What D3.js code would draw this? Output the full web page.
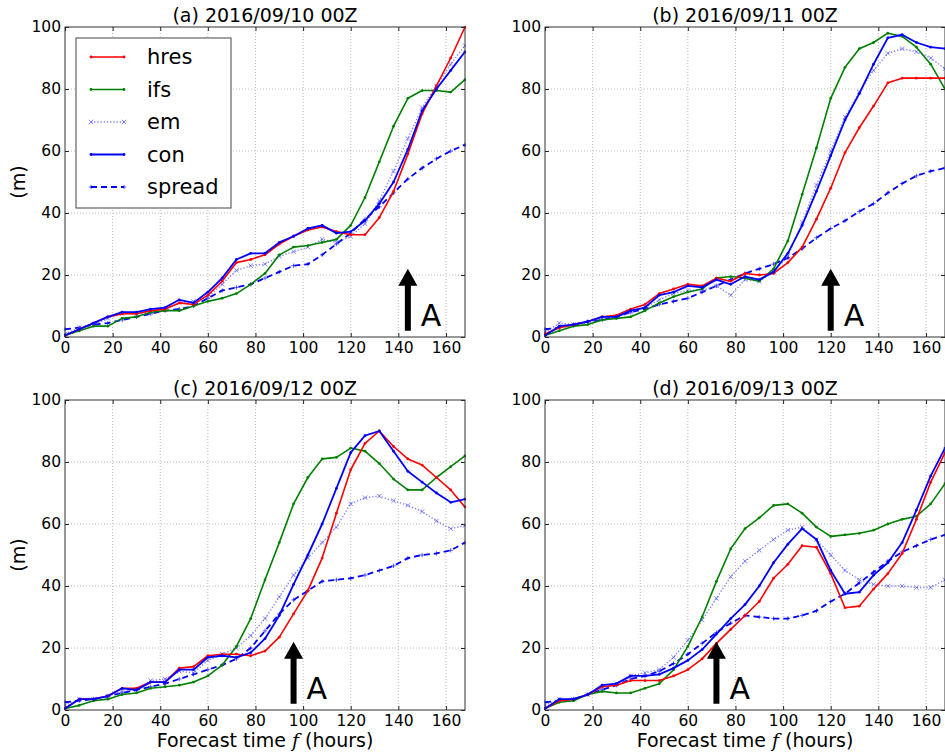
<!DOCTYPE html>
<html><head><meta charset="utf-8">
<script src="https://cdn.jsdelivr.net/npm/d3@7"></script>
<style>
body{margin:0;background:#fff}
svg{display:block}
text{font-family:"DejaVu Sans",sans-serif;fill:#000}
</style>
</head><body>
<svg id="chart" width="945" height="754"></svg>
<script>
// ---------- data ----------
const hours = [0,6,12,18,24,30,36,42,48,54,60,66,72,78,84,90,96,102,108,114,120,126,132,138,144,150,156,162,168];
const xTickValues = [0,20,40,60,80,100,120,140,160];
const yTickValues = [0,20,40,60,80,100];
const panelTitles = ["(a) 2016/09/10 00Z","(b) 2016/09/11 00Z","(c) 2016/09/12 00Z","(d) 2016/09/13 00Z"];
const arrowHours = [144,120,96,72];
const seriesNames = ["hres","ifs","em","con","spread"];

// panel (a)
const hresA   = [0.5,2.5,4.5,6.5,7.5,7.5,8.5,9,11,10.5,13.5,18,24,25,26.5,30,32.5,34.5,35.5,34,33,33,38.5,47,59,72,81,90,100];
const ifsA    = [0.5,2,3.5,3.5,6,6.5,8,8.5,8.5,10,11.5,12.5,14,17,20.5,26.5,29,29.5,30.5,31.5,36,45,56.5,68,77,79.5,79.5,79,83];
const emA     = [1,3,4,6,7.5,7.5,8,9,11,11.5,13,17,21.5,23,23.5,26,27.5,29,31.5,30.5,32.5,36.5,44,53.5,64,74,81,88,94];
const conA    = [0.5,2.5,4.5,6.5,8,8,9,9.5,12,11,14.5,19,25,27,27,30.5,32.5,35,36,33.5,34,37.5,43,50,60.5,73,80,86,92];
const spreadA = [2.5,3,4,4.5,5.5,6.5,7.5,8.5,9,10,12.5,15,16,17,19,21,23,23.5,26.5,30,33.5,38,42,46.5,51,54.5,57.5,60,62];

// panel (b)
const hresB   = [1,3,4,5,6.5,7,9,10.5,14,15.5,17,16.5,19,18,20.5,20,20.5,24,29,38,48,59.5,67.5,74.5,82,83.5,83.5,83.5,83.5];
const ifsB    = [0.5,2,3.5,4,5.5,6,6.5,8.5,11,13,14.5,15.5,19,19.5,19,18,22,31,46,61,77,87,93,95,98,97,93.5,88,80];
const emB     = [1.5,4.5,4,4.5,6,6.5,8,9.5,12,14,15,15,16.5,13.5,18.5,18,21,26,37,49,60,71,79,86,91.5,93,92,90,86.5];
const conB    = [0.5,3.5,4,5,6.5,6.5,8.5,9.5,13.5,14.5,16.5,16,18.5,17,19.5,18.5,21,27,36,47,58.5,70,78.5,88,96.5,97.5,95,93.5,93];
const spreadB = [2.5,3,4,5,5.5,6.5,8,9,10.5,11.5,12.5,14.5,16.5,18.5,20.5,22,23.5,25.5,28.5,32,35,37.5,40.5,43,46.5,49.5,52,53.5,54.5];

// panel (c)
const hresC   = [0.5,3.5,3.5,4.5,7,7,9,9,13.5,14,17.5,18,18,17.5,19,23.5,31,38.5,49,63.5,77.5,86,90,85,81,79,75,71,65.5];
const ifsC    = [0.5,1.5,3,3.5,5,5.5,7,7.5,8,9,11,14.5,20.5,29.5,42,54,66.5,75,81,81.5,84.5,83.5,79.5,74.5,71,71,75,78.5,82];
const emC     = [1.5,3.5,3.5,4.5,6,6.5,9.5,10,12.5,12,16,18,20,24,29.5,36.5,43.5,49,54,59,66.5,68.5,69,67.5,66,64,61,58.5,59.5];
const conC    = [0.5,3.5,3.5,4.5,7,6.5,9,9,13,13,17,17.5,17,18.5,23,30.5,40.5,50,60,71.5,83,88.5,90,83.5,77,73.5,70,67,68];
const spreadC = [2.5,3,3.5,4.5,5.5,6.5,7.5,8.5,10,11.5,13,14.5,16.5,20,25.5,31,35.5,38.5,41.5,42,42.5,43.5,45,46.5,49,50,50.5,51.5,54];

// panel (d)
const hresD   = [0.5,3,3.5,5,7.5,8,9.5,9.5,9.5,11,13,16.5,21.5,26,30.5,35,42.5,47,53,52.5,44,33,33.5,39,44,50.5,61.5,73.5,83];
const ifsD    = [0.5,2.5,3,5,6,5.5,5.5,7,8.5,13,20.5,30,41.5,52,58.5,62,66,66.5,63.5,59,56,56.5,57,58,60,61.5,62.5,66.5,73];
const emD     = [1.5,3.5,3.5,5,7,8.5,11,12,13,17,22.5,29,36,43,48,51.5,55,58,59,55,50,45,42,40.5,40,40,39.5,39.5,42];
const conD    = [0.5,3.5,3.5,5,8,8.5,11,11,11.5,13.5,16,19.5,24.5,29.5,34,40,47.5,53.5,58.5,55,45,37.5,38,43.5,47.5,54,64.5,75.5,84.5];
const spreadD = [2.5,3,3.5,5,6.5,8,10,11,12.5,15,18,21.5,25,28,30.5,30,29.5,29.5,30.5,32,35,37.5,41,44.5,48,51,53,55,56.5];

const panelSeries = [
  {hres:hresA, ifs:ifsA, em:emA, con:conA, spread:spreadA},
  {hres:hresB, ifs:ifsB, em:emB, con:conB, spread:spreadB},
  {hres:hresC, ifs:ifsC, em:emC, con:conC, spread:spreadC},
  {hres:hresD, ifs:ifsD, em:emD, con:conD, spread:spreadD}
];

// ---------- styles / layout ----------
const styles = {
  hres:   {color:"#ff0000", dash:null,  width:1.6, marker:"dot", opacity:1},
  ifs:    {color:"#008000", dash:null,  width:1.6, marker:"dot", opacity:1},
  em:     {color:"#4d4dff", dash:"1.2,2", width:1.4, marker:"x", opacity:0.75},
  con:    {color:"#0000ff", dash:null,  width:1.8, marker:"dot", opacity:1},
  spread: {color:"#0000ff", dash:"6,4", width:1.8, marker:"plus", opacity:1}
};
const panelPos = [{x:65,y:27},{x:545,y:27},{x:65,y:400},{x:545,y:400}];
const W = 400, H = 310;

const svg = d3.select("#chart");
svg.append("rect").attr("width",945).attr("height",754).attr("fill","#fff");
const defs = svg.append("defs");

function drawMarker(g, type, cx, cy, st){
  if(type==="dot"){
    g.append("circle").attr("cx",cx).attr("cy",cy).attr("r",1.4).attr("fill",st.color).attr("opacity",st.opacity);
  } else if(type==="x"){
    const s=2.2;
    g.append("path").attr("d",`M${cx-s},${cy-s}L${cx+s},${cy+s}M${cx-s},${cy+s}L${cx+s},${cy-s}`)
      .attr("stroke",st.color).attr("stroke-width",0.9).attr("opacity",st.opacity).attr("fill","none");
  } else if(type==="plus"){
    const s=2.2;
    g.append("path").attr("d",`M${cx-s},${cy}L${cx+s},${cy}M${cx},${cy-s}L${cx},${cy+s}`)
      .attr("stroke",st.color).attr("stroke-width",0.9).attr("opacity",0.7).attr("fill","none");
  }
}

panelPos.forEach((p,i)=>{
  const x = d3.scaleLinear().domain([0,168]).range([0,W]);
  const y = d3.scaleLinear().domain([0,100]).range([H,0]);
  const g = svg.append("g").attr("transform",`translate(${p.x},${p.y})`);

  defs.append("clipPath").attr("id","clip"+i).append("rect").attr("x",-1).attr("y",-1).attr("width",W+2).attr("height",H+2);

  // grid
  const grid = g.append("g");
  xTickValues.filter(v=>v>0).forEach(v=>{
    grid.append("line").attr("x1",x(v)).attr("x2",x(v)).attr("y1",0).attr("y2",H)
      .attr("stroke","#a8a8a8").attr("stroke-width",0.8).attr("stroke-dasharray","1,2");
  });
  yTickValues.filter(v=>v>0&&v<100).forEach(v=>{
    grid.append("line").attr("y1",y(v)).attr("y2",y(v)).attr("x1",0).attr("x2",W)
      .attr("stroke","#a8a8a8").attr("stroke-width",0.8).attr("stroke-dasharray","1,2");
  });

  // axes (ticks inward)
  const ax = g.append("g").attr("transform",`translate(0,${H})`)
    .call(d3.axisBottom(x).tickValues(xTickValues).tickSizeInner(-4).tickSizeOuter(0).tickPadding(5));
  const ay = g.append("g")
    .call(d3.axisLeft(y).tickValues(yTickValues).tickSizeInner(-4).tickSizeOuter(0).tickPadding(4));
  const at = g.append("g")
    .call(d3.axisTop(x).tickValues(xTickValues).tickSizeInner(-4).tickSizeOuter(0).tickFormat(""));
  const ar = g.append("g").attr("transform",`translate(${W},0)`)
    .call(d3.axisRight(y).tickValues(yTickValues).tickSizeInner(-4).tickSizeOuter(0).tickFormat(""));
  [ax,ay,at,ar].forEach(a=>{
    a.select(".domain").remove();
    a.selectAll("line").attr("stroke","#222");
    a.selectAll("text").attr("font-family","DejaVu Sans, sans-serif").attr("font-size",15.5).attr("fill","#111");
  });

  // series
  const line = d3.line().x((d,k)=>x(hours[k])).y(d=>y(d));
  const sg = g.append("g").attr("clip-path",`url(#clip${i})`);
  ["spread","em","ifs","hres","con"].forEach(name=>{
    const st = styles[name];
    const vals = panelSeries[i][name];
    sg.append("path").datum(vals).attr("d",line)
      .attr("fill","none").attr("stroke",st.color).attr("stroke-width",st.width)
      .attr("stroke-dasharray",st.dash).attr("opacity",st.opacity).attr("stroke-linejoin","round");
    vals.forEach((v,k)=>drawMarker(sg, st.marker, x(hours[k]), y(v), st));
  });

  // frame
  g.append("rect").attr("width",W).attr("height",H).attr("fill","none").attr("stroke","#333").attr("stroke-width",1);

  // arrow annotation "A"
  const ah = arrowHours[i];
  const ax0 = x(ah), tip = y(22), base = y(2), headH = 17, headW = 9.5, shaft = 3;
  g.append("path")
    .attr("d",`M${ax0-shaft},${base}L${ax0-shaft},${tip+headH}L${ax0-headW},${tip+headH}L${ax0},${tip}L${ax0+headW},${tip+headH}L${ax0+shaft},${tip+headH}L${ax0+shaft},${base}Z`)
    .attr("fill","#000");
  g.append("text").attr("x",ax0+13).attr("y",y(0)-11).attr("font-size",30).text("A");

  // title
  g.append("text").attr("x",W/2).attr("y",-5).attr("text-anchor","middle").attr("font-size",19).text(panelTitles[i]);

  // y label
  if(i%2===0){
    g.append("text").attr("transform",`translate(${18-p.x},${H/2}) rotate(-90)`)
      .attr("text-anchor","middle").attr("dominant-baseline","central").attr("font-size",19).text("(m)");
  }
  // x label
  if(i>=2){
    const t = g.append("text").attr("x",W/2).attr("y",H+37).attr("text-anchor","middle").attr("font-size",19);
    t.append("tspan").text("Forecast time ");
    t.append("tspan").attr("font-family","DejaVu Serif, serif").attr("font-style","italic").text("f");
    t.append("tspan").text(" (hours)");
  }

  // legend
  if(i===0){
    const lg = g.append("g").attr("transform","translate(11,11)");
    lg.append("rect").attr("width",155).attr("height",170).attr("fill","#fff").attr("stroke","#444").attr("stroke-width",1);
    seriesNames.forEach((name,k)=>{
      const st = styles[name];
      const yy = 19 + k*32.5;
      lg.append("line").attr("x1",15).attr("x2",48).attr("y1",yy).attr("y2",yy)
        .attr("stroke",st.color).attr("stroke-width",st.width).attr("stroke-dasharray",st.dash).attr("opacity",st.opacity);
      drawMarker(lg, st.marker, 15, yy, st);
      drawMarker(lg, st.marker, 48, yy, st);
      lg.append("text").attr("x",71).attr("y",yy).attr("dominant-baseline","central").attr("font-size",21).text(name);
    });
  }
});
</script>
</body></html>
